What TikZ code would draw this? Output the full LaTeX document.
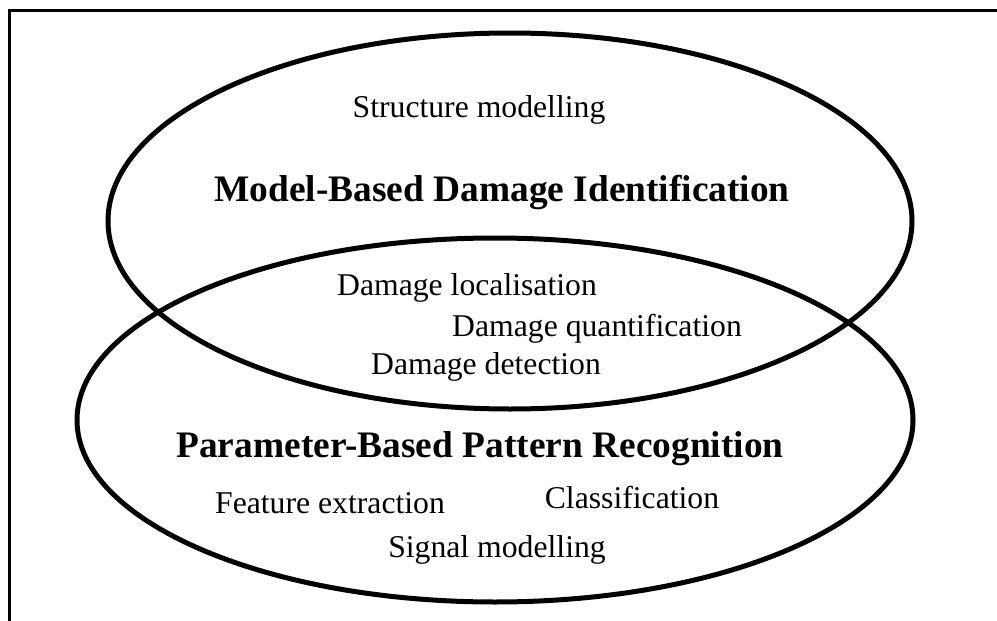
\documentclass[tikz,border=0pt]{standalone}
\usepackage{fontspec}
\setmainfont{Liberation Serif}
\begin{document}
\begin{tikzpicture}[x=1pt,y=-1pt,
  ring/.style={line width=5pt},
  frameline/.style={line width=3pt},
  item/.style={inner sep=0pt,font=\fontsize{31.7}{38}\selectfont},
  heading/.style={inner sep=0pt,font=\fontsize{37.4}{44}\selectfont\bfseries}]
\useasboundingbox (0,0) rectangle (997,621);
% open frame: top and left edges only
\draw[frameline] (997,10) -- (9,10) -- (9,621);
% the two overlapping fields
\draw[ring] (510,221) ellipse [x radius=402, y radius=188];
\draw[ring] (495,420) ellipse [x radius=418, y radius=182];
% upper field
\node[item]    (sm)  at (479,110) {Structure modelling};
\node[heading] (mbd) at (502,192) {Model-Based Damage Identification};
% overlap
\node[item] (dl) at (467,288) {Damage localisation};
\node[item] (dq) at (597,329) {Damage quantification};
\node[item] (dd) at (486,367) {Damage detection};
% lower field
\node[heading] (pbp) at (480,449) {Parameter-Based Pattern Recognition};
\node[item] (fe)  at (330,503) {Feature extraction};
\node[item] (cl)  at (632,497) {Classification};
\node[item] (sg)  at (497,550) {Signal modelling};
\end{tikzpicture}
\end{document}
